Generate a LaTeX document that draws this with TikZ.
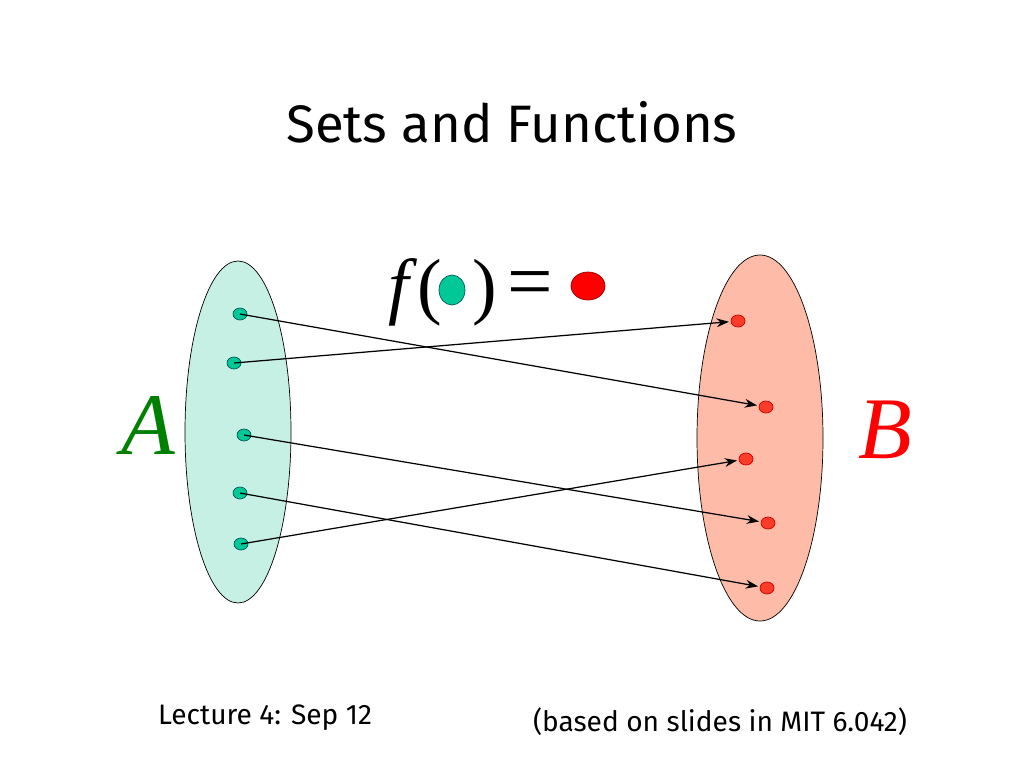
\documentclass[tikz,border=0pt]{standalone}
\usepackage{fontspec}
\setsansfont{Fira Sans}
\newfontfamily\tms{Liberation Serif}
\usetikzlibrary{arrows.meta,shapes.geometric}
\definecolor{gdc}{RGB}{0,200,150}
\definecolor{rdc}{RGB}{250,60,40}
\begin{document}
\begin{tikzpicture}[x=0.02cm,y=-0.02cm,
 gdot/.style={ellipse,draw=teal!70!black,fill=gdc,minimum width=14*0.02cm,minimum height=12*0.02cm,inner sep=0pt},
 rdot/.style={ellipse,draw=red!80!black,fill=rdc,minimum width=14*0.02cm,minimum height=12*0.02cm,inner sep=0pt},
 arr/.style={-{Stealth[length=7pt,width=5pt]},line width=0.7pt,shorten >=1pt}]
\useasboundingbox (0,0) rectangle (1024,768);
\node[font=\sffamily\fontsize{30}{36}\selectfont] (title) at (512,122) {Sets and Functions};
\draw[fill={rgb,255:red,198;green,240;blue,228}] (238,432) ellipse [x radius=53,y radius=171];
\draw[fill={rgb,255:red,253;green,187;blue,168}] (760,438) ellipse [x radius=63,y radius=183];
\node[font=\tms\itshape\fontsize{50}{60}\selectfont,text={rgb,255:red,0;green,128;blue,0}] (A) at (148,425) {A};
\node[font=\tms\itshape\fontsize{50}{60}\selectfont,text=red] (B) at (885,430) {B};
\node[font=\tms\fontsize{42}{50}\selectfont,anchor=west,inner sep=0pt] (f) at (388,292) {\textit{f}(\hspace{0.42em})};
\node[ellipse,draw=teal!70!black,fill=gdc,minimum width=26*0.02cm,minimum height=30*0.02cm] (fg) at (452,290) {};
\node[font=\tms\fontsize{46}{50}\selectfont] (eq) at (530,290) {=};
\node[ellipse,draw=red!60!black,fill=red,minimum width=34*0.02cm,minimum height=28*0.02cm] (fr) at (588,286) {};
\node[gdot] (a1) at (240,314) {};
\node[gdot] (a2) at (234,363) {};
\node[gdot] (a3) at (244,435) {};
\node[gdot] (a4) at (240,493) {};
\node[gdot] (a5) at (241,544) {};
\node[rdot] (b1) at (738,321) {};
\node[rdot] (b2) at (766,407) {};
\node[rdot] (b3) at (746,459) {};
\node[rdot] (b4) at (768,523) {};
\node[rdot] (b5) at (767,588) {};
\draw[arr] (a1.center) -- (b2);
\draw[arr] (a2.center) -- (b1);
\draw[arr] (a3.center) -- (b4);
\draw[arr] (a4.center) -- (b5);
\draw[arr] (a5.center) -- (b3);
\node[font=\sffamily\fontsize{16}{20}\selectfont] (lec) at (265,718) {Lecture 4: Sep 12};
\node[font=\sffamily\fontsize{16}{20}\selectfont] (mit) at (720,722) {(based on slides in MIT 6.042)};
\end{tikzpicture}
\end{document}
